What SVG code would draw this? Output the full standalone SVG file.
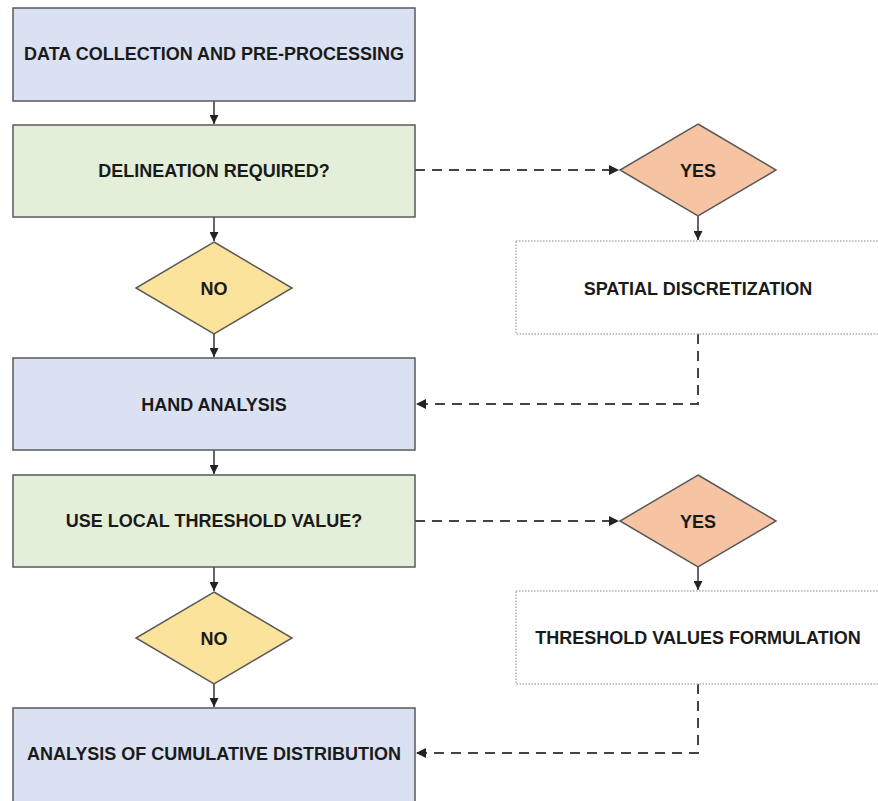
<svg xmlns="http://www.w3.org/2000/svg" width="878" height="801" viewBox="0 0 878 801">
  <style>
    .box { stroke: #5a5a5a; stroke-width: 1.5; }
    .blue { fill: #dae1f2; }
    .green { fill: #e3efd9; }
    .no { fill: #fbe39b; stroke: #5a5a5a; stroke-width: 1.5; }
    .yes { fill: #f6c4a3; stroke: #5a5a5a; stroke-width: 1.5; }
    .dotted { fill: #ffffff; stroke: #b0b0b0; stroke-width: 1.5; stroke-dasharray: 1.5 1.5; }
    .lbl { font-family: "Liberation Sans", Arial, sans-serif; font-weight: bold; font-size: 18px; fill: #1a1a1a; text-anchor: middle; dominant-baseline: central; }
    .solid { fill: none; stroke: #333; stroke-width: 1.5; }
    .dash { fill: none; stroke: #444; stroke-width: 2; stroke-dasharray: 10 7; }
  </style>
  <defs>
    <marker id="arrow" viewBox="0 0 10 10" refX="10" refY="5" markerWidth="9" markerHeight="9" markerUnits="userSpaceOnUse" orient="auto">
      <path d="M0,0 L10,5 L0,10 z" fill="#222"/>
    </marker>
    <marker id="arrowL" viewBox="0 0 10 10" refX="10" refY="5" markerWidth="10" markerHeight="10" markerUnits="userSpaceOnUse" orient="auto">
      <path d="M0,0 L10,5 L0,10 z" fill="#222"/>
    </marker>
  </defs>

  <rect width="878" height="801" fill="#ffffff"/>

  <g id="connectors">
    <line class="solid" x1="214" y1="101" x2="214" y2="124" marker-end="url(#arrow)"/>
    <line class="solid" x1="214" y1="217" x2="214" y2="241" marker-end="url(#arrow)"/>
    <line class="solid" x1="214" y1="334" x2="214" y2="357" marker-end="url(#arrow)"/>
    <line class="solid" x1="214" y1="450" x2="214" y2="474" marker-end="url(#arrow)"/>
    <line class="solid" x1="214" y1="567" x2="214" y2="591" marker-end="url(#arrow)"/>
    <line class="solid" x1="214" y1="684" x2="214" y2="707" marker-end="url(#arrow)"/>
    <line class="solid" x1="698" y1="216" x2="698" y2="240" marker-end="url(#arrow)"/>
    <line class="solid" x1="698" y1="567" x2="698" y2="590" marker-end="url(#arrow)"/>
    <line class="dash" x1="415" y1="170" x2="619" y2="170" marker-end="url(#arrowL)"/>
    <line class="dash" x1="415" y1="521" x2="619" y2="521" marker-end="url(#arrowL)"/>
    <polyline class="dash" points="698,334 698,404 416,404" marker-end="url(#arrowL)"/>
    <polyline class="dash" points="698,684 698,753 416,753" marker-end="url(#arrowL)"/>
  </g>

  <g id="data-collection">
    <rect class="box blue" x="13" y="8" width="402" height="93"/>
    <text class="lbl" x="214" y="54">DATA COLLECTION AND PRE-PROCESSING</text>
  </g>
  <g id="delineation-required">
    <rect class="box green" x="13" y="125" width="402" height="92"/>
    <text class="lbl" x="214" y="171">DELINEATION REQUIRED?</text>
  </g>
  <g id="no-1">
    <polygon class="no" points="214,242 292,288 214,334 136,288"/>
    <text class="lbl" x="214" y="289">NO</text>
  </g>
  <g id="yes-1">
    <polygon class="yes" points="698,124 776,170 698,216 620,170"/>
    <text class="lbl" x="698" y="171">YES</text>
  </g>
  <g id="spatial-discretization">
    <rect class="dotted" x="516" y="241" width="370" height="93"/>
    <text class="lbl" x="698" y="289">SPATIAL DISCRETIZATION</text>
  </g>
  <g id="hand-analysis">
    <rect class="box blue" x="13" y="358" width="402" height="92"/>
    <text class="lbl" x="214" y="405">HAND ANALYSIS</text>
  </g>
  <g id="local-threshold">
    <rect class="box green" x="13" y="475" width="402" height="92"/>
    <text class="lbl" x="214" y="521">USE LOCAL THRESHOLD VALUE?</text>
  </g>
  <g id="no-2">
    <polygon class="no" points="214,592 292,638 214,684 136,638"/>
    <text class="lbl" x="214" y="639">NO</text>
  </g>
  <g id="yes-2">
    <polygon class="yes" points="698,475 776,521 698,567 620,521"/>
    <text class="lbl" x="698" y="522">YES</text>
  </g>
  <g id="threshold-formulation">
    <rect class="dotted" x="516" y="591" width="370" height="93"/>
    <text class="lbl" x="698" y="638">THRESHOLD VALUES FORMULATION</text>
  </g>
  <g id="cumulative-distribution">
    <rect class="box blue" x="13" y="708" width="402" height="100"/>
    <text class="lbl" x="214" y="754">ANALYSIS OF CUMULATIVE DISTRIBUTION</text>
  </g>
</svg>
